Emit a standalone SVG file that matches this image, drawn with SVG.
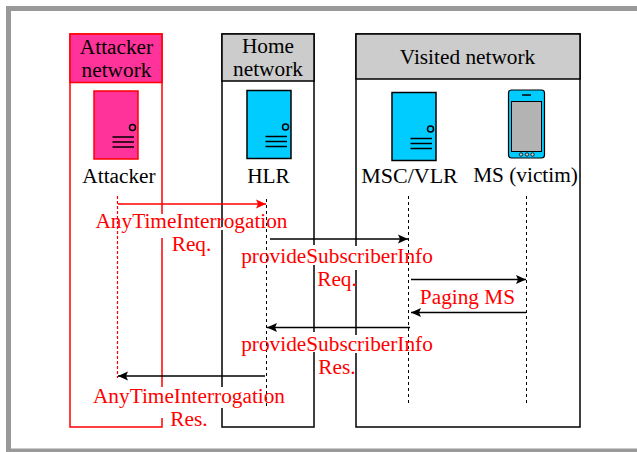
<svg xmlns="http://www.w3.org/2000/svg" width="637" height="452" viewBox="0 0 637 452">
<defs>
<marker id="ab" markerUnits="userSpaceOnUse" markerWidth="11" markerHeight="10" refX="10" refY="5" orient="auto"><path d="M0,0.5L10,5L0,9.5L2,5Z" fill="#000"/></marker>
<marker id="ar" markerUnits="userSpaceOnUse" markerWidth="11" markerHeight="10" refX="10" refY="5" orient="auto"><path d="M0,0.5L10,5L0,9.5L2,5Z" fill="#f00"/></marker>
<g id="srv"><rect x="0" y="0" width="44" height="68"/><circle cx="38.500" cy="36.500" r="3" fill="none" stroke="#000" stroke-width="1.500"/><path d="M18.500 46H40M18.500 51H40M18.500 56H40" fill="none" stroke="#000" stroke-width="1.500"/></g>
</defs>
<style>
text{font-family:"Liberation Serif","Times New Roman",serif;font-size:21.300px;text-anchor:middle;fill:#000}
.m{fill:#f00}
.bx{fill:#fff;stroke:#000;stroke-width:1.500}
.hd{fill:#ccc;stroke:#000;stroke-width:1.500}
.ll{stroke:#000;stroke-width:1;stroke-dasharray:3 3;fill:none}
.c{stroke:#000;stroke-width:1.500;fill:none;marker-end:url(#ab)}
.w{fill:#fff}
</style>
<path d="M8.500 452V8.500H637M8 451H637" fill="none" stroke="#999" stroke-width="5"/>
<g id="attacker-network"><rect x="70" y="34" width="92" height="393" fill="#fff" stroke="#f00" stroke-width="1.500"/><rect x="70" y="34" width="92" height="48.500" fill="#ff3399" stroke="#f00" stroke-width="1.500"/><text x="116.500" y="54">Attacker</text><text x="116.500" y="77">network</text></g>
<g id="home-network"><rect x="222" y="34" width="92" height="393" class="bx"/><rect x="222" y="34" width="92" height="47" class="hd"/><text x="268" y="53">Home</text><text x="268" y="76">network</text></g>
<g id="visited-network"><rect x="356" y="34" width="224" height="393" class="bx"/><rect x="356" y="34" width="224" height="45" class="hd"/><text x="467.500" y="63.500">Visited network</text></g>
<g id="attacker"><use href="#srv" x="94" y="91" fill="#ff3399" stroke="#f00" stroke-width="1.500"/><text x="119" y="183">Attacker</text></g>
<g id="hlr"><use href="#srv" x="247" y="90.500" fill="#00ccff" stroke="#000" stroke-width="1.500"/><text x="268.500" y="183">HLR</text></g>
<g id="msc-vlr"><use href="#srv" x="392" y="92.500" fill="#00ccff" stroke="#000" stroke-width="1.500"/><text x="409.500" y="183" style="font-size:22px">MSC/VLR</text></g>
<g id="ms"><rect x="508.500" y="90" width="36" height="68" rx="3" fill="#00ccff" stroke="#000" stroke-width="1.200"/><rect x="511.500" y="101.500" width="30" height="50" fill="#b3b3b3" stroke="#000" stroke-width="1"/><path d="M522 95H531" stroke="#000" stroke-width="1.500"/><circle cx="521" cy="154.500" r="1.700" fill="#ccc" stroke="#000" stroke-width=".8"/><circle cx="527" cy="154.500" r="1.700" fill="#ccc" stroke="#000" stroke-width=".8"/><circle cx="532.500" cy="154.500" r="1.700" fill="#ccc" stroke="#000" stroke-width=".8"/><text x="525.500" y="182">MS (victim)</text></g>
<g id="label-backgrounds">
<rect class="w" x="160" y="214" width="4" height="24"/>
<rect class="w" x="220" y="227" width="4" height="3"/>
<rect class="w" x="312" y="245" width="4" height="20"/>
<rect class="w" x="354" y="246" width="4" height="24"/>
<rect class="w" x="312" y="332" width="4" height="20"/>
<rect class="w" x="354" y="335" width="4" height="18"/>
<rect class="w" x="160" y="387" width="4" height="31"/>
<rect class="w" x="220" y="387" width="4" height="21"/>
</g>
<g id="connectors">
<path d="M117.500 196V378" stroke="#ff0000" stroke-width="1.200" stroke-dasharray="3 2" fill="none"/>
<path class="ll" d="M266.500 199V407"/>
<path class="ll" d="M408.500 196V405"/>
<path class="ll" d="M526.500 196V405"/>
<path d="M118 204H266" stroke="#f00" stroke-width="1.500" fill="none" marker-end="url(#ar)"/>
<path class="c" d="M270 239H408"/>
<path class="c" d="M411 279.500H526"/>
<path class="c" d="M526 312.500H411"/>
<path class="c" d="M410 327.500H267"/>
<path class="c" d="M265 376H118"/>
</g>
<g id="labels">
<text class="m" x="191.500" y="228">AnyTimeInterrogation</text><text class="m" x="191.500" y="251">Req.</text>
<text class="m" x="337" y="263">provideSubscriberInfo</text><text class="m" x="337" y="286">Req.</text>
<text class="m" x="467.500" y="304">Paging MS</text>
<text class="m" x="337" y="351">provideSubscriberInfo</text><text class="m" x="337" y="374">Res.</text>
<text class="m" x="189" y="403">AnyTimeInterrogation</text><text class="m" x="189" y="426">Res.</text>
</g>
</svg>
